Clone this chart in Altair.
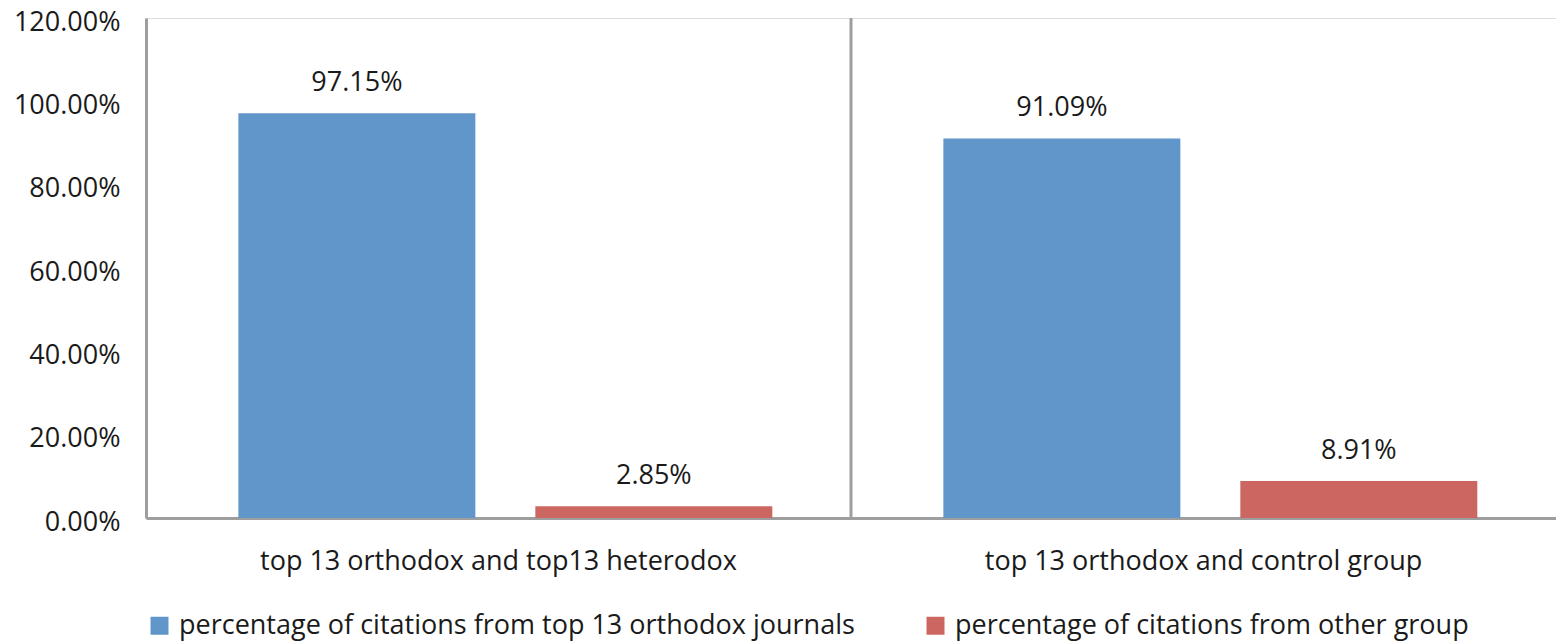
import altair as alt
import pandas as pd

groups = ["top 13 orthodox and top13 heterodox", "top 13 orthodox and control group"]
series = ["percentage of citations from top 13 orthodox journals",
          "percentage of citations from other group"]
orthodox_vals = [97.15, 91.09]
other_vals = [2.85, 8.91]
colors = ["#6096C9", "#CC6661"]
y_ticks = [0, 20, 40, 60, 80, 100, 120]

rows = []
for g, a, b in zip(groups, orthodox_vals, other_vals):
    rows.append({"group": g, "series": series[0], "value": a, "label": f"{a:.2f}%"})
    rows.append({"group": g, "series": series[1], "value": b, "label": f"{b:.2f}%"})
df = pd.DataFrame(rows)

sep_df = pd.DataFrame({"group": [groups[1]], "y0": [0], "y1": [120]})

FONT = "Open Sans"
FS = 27
GRAY = "#9e9e9e"
TXT = "#1a1a1a"

x_enc = alt.X("group:N", sort=groups,
              scale=alt.Scale(paddingInner=0, paddingOuter=0),
              axis=alt.Axis(title=None, labelAngle=0, ticks=False, grid=False,
                            domainColor=GRAY, domainWidth=3, labelLimit=0,
                            labelFont=FONT, labelFontSize=FS, labelColor=TXT,
                            labelPadding=30))
xo_enc = alt.XOffset("series:N", sort=series,
                     scale=alt.Scale(paddingInner=0.202, paddingOuter=0.288, align=0.54))
y_enc = alt.Y("value:Q", scale=alt.Scale(domain=[0, 120], nice=False),
              axis=alt.Axis(title=None, values=y_ticks, ticks=False, grid=False,
                            domainColor=GRAY, domainWidth=3,
                            labelExpr="format(datum.value, '.2f') + '%'",
                            labelFont=FONT, labelFontSize=FS, labelColor=TXT,
                            labelPadding=26, labelOffset=4))

base = alt.Chart(df).encode(x=x_enc, xOffset=xo_enc, y=y_enc)

bars = base.mark_bar().encode(
    color=alt.Color("series:N", sort=series,
                    scale=alt.Scale(domain=series, range=colors),
                    legend=alt.Legend(title=None, orient="none", legendX=0, legendY=594,
                                      direction="horizontal", symbolType="square",
                                      symbolSize=324, symbolStrokeWidth=0,
                                      labelFont=FONT, labelFontSize=FS, labelColor=TXT,
                                      labelOffset=6, columnPadding=67, padding=0,
                                      labelLimit=0))
)

texts = base.mark_text(baseline="alphabetic", dy=-22, font=FONT, fontSize=FS,
                       color=TXT).encode(text="label:N")

sep = alt.Chart(sep_df).mark_rule(color=GRAY, strokeWidth=3).encode(
    x=alt.X("group:N", sort=groups, bandPosition=0),
    y=alt.Y("y0:Q"),
    y2="y1:Q",
)

chart = alt.layer(bars, texts, sep).properties(
    width=1410, height=500,
    padding={"left": 138, "top": 10, "right": 0, "bottom": 126},
    autosize=alt.AutoSizeParams(type="none"),
).configure_view(stroke=None).configure(background="white")

chart.save("out.html", embed_options={"renderer": "svg", "actions": False})
